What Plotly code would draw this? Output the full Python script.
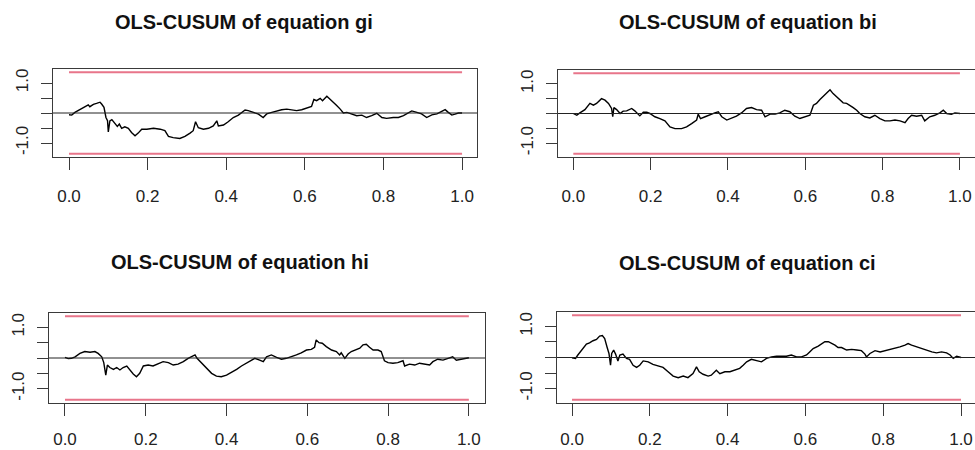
import plotly.graph_objects as go

# ---------------- data ----------------
titles = ["OLS-CUSUM of equation gi", "OLS-CUSUM of equation bi",
          "OLS-CUSUM of equation hi", "OLS-CUSUM of equation ci"]
boundary = 1.358
x_ticks = [0.0, 0.2, 0.4, 0.6, 0.8, 1.0]
x_tick_text = ["0.0", "0.2", "0.4", "0.6", "0.8", "1.0"]
y_ticks = [-1.0, -0.5, 0.0, 0.5, 1.0]
y_tick_text = ["-1.0", "", "", "", "1.0"]

gi = [(0.000,-0.06),(0.007,-0.07),(0.015,0.02),(0.028,0.11),(0.041,0.22),(0.049,0.27),
      (0.053,0.21),(0.062,0.29),(0.070,0.32),(0.079,0.36),(0.083,0.30),(0.089,0.19),
      (0.094,-0.15),(0.098,-0.26),(0.100,-0.63),(0.104,-0.26),(0.109,-0.22),(0.117,-0.34),
      (0.123,-0.45),(0.128,-0.37),(0.134,-0.51),(0.142,-0.46),(0.151,-0.51),(0.159,-0.65),
      (0.168,-0.76),(0.176,-0.67),(0.185,-0.54),(0.198,-0.54),(0.215,-0.51),(0.232,-0.54),
      (0.244,-0.59),(0.253,-0.78),(0.265,-0.82),(0.282,-0.85),(0.295,-0.78),(0.308,-0.67),
      (0.316,-0.59),(0.322,-0.29),(0.329,-0.49),(0.342,-0.54),(0.355,-0.51),(0.367,-0.43),
      (0.376,-0.26),(0.380,-0.43),(0.393,-0.40),(0.405,-0.29),(0.418,-0.15),(0.431,-0.07),
      (0.439,0.02),(0.448,0.10),(0.456,0.08),(0.469,0.02),(0.482,-0.04),(0.494,-0.15),
      (0.503,-0.03),(0.516,0.02),(0.528,0.07),(0.541,0.11),(0.554,0.13),(0.567,0.10),
      (0.579,0.08),(0.592,0.11),(0.605,0.16),(0.617,0.22),(0.623,0.45),(0.630,0.41),
      (0.639,0.49),(0.645,0.41),(0.656,0.56),(0.664,0.47),(0.673,0.34),(0.681,0.25),
      (0.690,0.13),(0.698,0.00),(0.707,0.02),(0.719,-0.03),(0.732,-0.09),(0.745,-0.07),
      (0.757,-0.15),(0.770,-0.09),(0.783,-0.01),(0.796,-0.15),(0.808,-0.18),(0.825,-0.15),
      (0.838,-0.15),(0.851,-0.09),(0.863,0.00),(0.872,0.07),(0.885,0.02),(0.897,-0.03),
      (0.910,-0.15),(0.923,-0.06),(0.936,-0.03),(0.948,0.04),(0.957,0.11),(0.965,0.02),
      (0.974,-0.07),(0.982,-0.04),(0.991,0.00),(1.000,0.00)]

bi = [(0.000,0.00),(0.009,-0.06),(0.017,0.02),(0.030,0.13),(0.043,0.34),(0.052,0.28),
      (0.060,0.34),(0.073,0.50),(0.082,0.45),(0.091,0.34),(0.099,0.17),(0.102,-0.11),
      (0.105,0.20),(0.112,0.13),(0.121,0.00),(0.129,0.08),(0.138,0.09),(0.151,0.17),
      (0.159,0.09),(0.172,-0.08),(0.181,0.04),(0.190,0.04),(0.198,0.00),(0.211,-0.11),
      (0.224,-0.17),(0.237,-0.25),(0.250,-0.45),(0.263,-0.51),(0.280,-0.51),(0.293,-0.45),
      (0.306,-0.34),(0.319,-0.22),(0.323,-0.02),(0.329,-0.17),(0.341,-0.11),(0.353,-0.06),
      (0.366,0.02),(0.375,0.06),(0.384,-0.11),(0.397,-0.22),(0.409,-0.17),(0.422,-0.09),
      (0.435,0.02),(0.448,0.17),(0.461,0.20),(0.474,0.13),(0.487,0.11),(0.496,-0.11),
      (0.509,-0.02),(0.522,-0.02),(0.534,0.02),(0.547,0.11),(0.560,0.06),(0.573,-0.09),
      (0.586,-0.17),(0.599,-0.11),(0.612,-0.06),(0.621,0.28),(0.629,0.34),(0.638,0.47),
      (0.647,0.58),(0.655,0.67),(0.664,0.80),(0.672,0.67),(0.681,0.56),(0.690,0.45),
      (0.698,0.36),(0.707,0.34),(0.716,0.28),(0.724,0.20),(0.733,0.11),(0.741,0.00),
      (0.754,-0.11),(0.767,-0.15),(0.780,-0.06),(0.793,-0.17),(0.806,-0.25),(0.819,-0.25),
      (0.832,-0.22),(0.845,-0.25),(0.858,-0.31),(0.866,-0.17),(0.875,-0.06),(0.888,-0.09),
      (0.901,-0.06),(0.909,-0.25),(0.922,-0.11),(0.935,-0.06),(0.948,0.02),(0.957,0.11),
      (0.966,0.00),(0.978,-0.03),(0.987,0.02),(1.000,0.00)]

hi = [(0.000,0.02),(0.008,-0.02),(0.016,-0.01),(0.025,0.04),(0.037,0.15),(0.049,0.21),
      (0.062,0.19),(0.074,0.21),(0.082,0.15),(0.091,0.04),(0.096,-0.15),(0.101,-0.56),
      (0.105,-0.23),(0.111,-0.31),(0.120,-0.37),(0.128,-0.31),(0.136,-0.39),(0.144,-0.31),
      (0.153,-0.26),(0.161,-0.39),(0.169,-0.52),(0.177,-0.61),(0.185,-0.50),(0.194,-0.26),
      (0.206,-0.23),(0.218,-0.26),(0.231,-0.20),(0.243,-0.12),(0.256,-0.15),(0.268,-0.23),
      (0.280,-0.20),(0.293,-0.12),(0.305,-0.01),(0.313,0.04),(0.322,0.10),(0.327,-0.01),
      (0.338,-0.15),(0.350,-0.31),(0.363,-0.50),(0.375,-0.59),(0.387,-0.61),(0.400,-0.56),
      (0.412,-0.48),(0.425,-0.37),(0.437,-0.26),(0.449,-0.17),(0.462,-0.07),(0.470,-0.01),
      (0.482,-0.07),(0.491,-0.12),(0.499,0.04),(0.511,0.10),(0.524,0.02),(0.536,-0.04),
      (0.548,-0.01),(0.561,0.04),(0.573,0.10),(0.585,0.17),(0.598,0.26),(0.610,0.28),
      (0.618,0.35),(0.622,0.59),(0.629,0.50),(0.637,0.48),(0.647,0.37),(0.660,0.26),
      (0.672,0.21),(0.680,0.10),(0.684,0.17),(0.693,-0.01),(0.701,0.13),(0.709,0.21),
      (0.717,0.26),(0.730,0.32),(0.738,0.43),(0.746,0.45),(0.754,0.35),(0.763,0.26),
      (0.775,0.26),(0.783,0.21),(0.791,-0.09),(0.800,-0.15),(0.812,-0.17),(0.824,-0.15),
      (0.837,-0.09),(0.841,-0.26),(0.853,-0.20),(0.866,-0.23),(0.878,-0.17),(0.890,-0.20),
      (0.903,-0.23),(0.911,-0.12),(0.923,-0.04),(0.936,-0.07),(0.948,-0.01),(0.960,0.04),
      (0.969,-0.07),(0.981,-0.04),(0.992,-0.01),(1.000,0.01)]

ci = [(0.000,-0.01),(0.009,-0.03),(0.015,0.08),(0.028,0.29),(0.037,0.43),(0.045,0.47),
      (0.054,0.54),(0.063,0.58),(0.071,0.69),(0.078,0.71),(0.084,0.61),(0.090,0.34),
      (0.095,0.13),(0.099,-0.25),(0.102,0.13),(0.107,0.24),(0.112,0.11),(0.118,-0.11),
      (0.123,0.08),(0.131,0.11),(0.140,-0.03),(0.148,-0.06),(0.157,-0.25),(0.166,-0.32),
      (0.174,-0.25),(0.183,-0.11),(0.196,-0.14),(0.208,-0.22),(0.221,-0.28),(0.234,-0.32),
      (0.247,-0.46),(0.260,-0.60),(0.273,-0.65),(0.286,-0.60),(0.298,-0.65),(0.311,-0.52),
      (0.320,-0.30),(0.327,-0.46),(0.337,-0.54),(0.350,-0.60),(0.358,-0.57),(0.371,-0.41),
      (0.380,-0.52),(0.393,-0.46),(0.406,-0.46),(0.419,-0.41),(0.431,-0.35),(0.440,-0.25),
      (0.449,-0.14),(0.461,-0.06),(0.474,-0.09),(0.487,-0.14),(0.500,-0.03),(0.513,0.02),
      (0.526,0.04),(0.539,0.04),(0.551,0.04),(0.564,0.08),(0.577,0.02),(0.590,0.02),
      (0.603,0.08),(0.611,0.18),(0.620,0.29),(0.633,0.37),(0.642,0.43),(0.650,0.51),
      (0.659,0.51),(0.667,0.47),(0.676,0.40),(0.684,0.32),(0.693,0.32),(0.706,0.24),
      (0.719,0.26),(0.732,0.24),(0.744,0.22),(0.753,0.11),(0.757,0.02),(0.766,0.13),
      (0.779,0.22),(0.792,0.18),(0.804,0.22),(0.817,0.24),(0.830,0.29),(0.843,0.34),
      (0.856,0.40),(0.864,0.45),(0.873,0.40),(0.886,0.34),(0.899,0.29),(0.912,0.24),
      (0.925,0.18),(0.937,0.15),(0.950,0.18),(0.963,0.15),(0.972,0.08),(0.980,-0.03),
      (0.989,0.04),(1.000,0.00)]

series = [gi, bi, hi, ci]

# ---------------- layout geometry ----------------
W, H = 975, 450
# plot boxes in pixels: (left, right, top, bottom, x_range, x-label standoff)
boxes = [
    (53, 477, 69, 157, [-0.0407, 1.038], 12),
    (558, 975, 70, 157, [-0.0396, 1.039], 12),
    (49, 485, 313, 403, [-0.0396, 1.04], 9),
    (557, 975, 312, 403, [-0.0386, 1.036], 9),
]
title_pos = [(244, 22), (748, 22), (240, 262), (747, 263)]
y_range = [-boundary * 1.08, boundary * 1.08]

AX = "#3a3a3a"
RED = "#E8758A"
FONT = "Liberation Sans, Arial, Helvetica, sans-serif"

fig = go.Figure()
for i, (pts, (l, r, t, b, xr, so)) in enumerate(zip(series, boxes)):
    n = "" if i == 0 else str(i + 1)
    xa, ya = "x" + n, "y" + n
    fig.add_trace(go.Scatter(x=[0, 1], y=[boundary, boundary], mode="lines",
                             line=dict(color=RED, width=2), xaxis=xa, yaxis=ya,
                             hoverinfo="skip", showlegend=False))
    fig.add_trace(go.Scatter(x=[0, 1], y=[-boundary, -boundary], mode="lines",
                             line=dict(color=RED, width=2), xaxis=xa, yaxis=ya,
                             hoverinfo="skip", showlegend=False))
    fig.add_shape(type="line", xref=xa + " domain", yref=ya, x0=0, x1=1, y0=0, y1=0,
                  line=dict(color="#222", width=1))
    fig.add_trace(go.Scatter(x=[p[0] for p in pts], y=[p[1] for p in pts], mode="lines",
                             line=dict(color="black", width=1.4), xaxis=xa, yaxis=ya,
                             showlegend=False))
    common = dict(showgrid=False, zeroline=False, showline=True, mirror=True,
                  linecolor=AX, linewidth=1, ticks="outside", tickcolor=AX,
                  automargin=False,
                  tickfont=dict(family=FONT, size=17, color="#222"), fixedrange=True)
    fig.update_layout(**{
        ("xaxis" + n): dict(domain=[l / W, min(r / W, 1.0)], range=xr, anchor=ya,
                            tickvals=x_ticks, ticktext=x_tick_text, ticklen=12,
                            ticklabelstandoff=so, **common),
        ("yaxis" + n): dict(domain=[1 - b / H, 1 - t / H], range=y_range, anchor=xa,
                            tickvals=y_ticks, ticktext=y_tick_text, ticklen=11,
                            tickangle=-90, ticklabelstandoff=6, **common),
    })
    tx, ty = title_pos[i]
    fig.add_annotation(text="<b>" + titles[i] + "</b>", x=tx / W, y=1 - ty / H,
                       xref="paper", yref="paper", showarrow=False,
                       xanchor="center", yanchor="middle",
                       font=dict(family=FONT, size=20, color="#111"))

fig.update_layout(width=W, height=H, margin=dict(l=0, r=0, t=0, b=0),
                  plot_bgcolor="white", paper_bgcolor="white", showlegend=False)
fig.write_html("out.html", config={"displayModeBar": False},
               post_script="document.body.style.margin='0';document.body.style.overflow='hidden';")
